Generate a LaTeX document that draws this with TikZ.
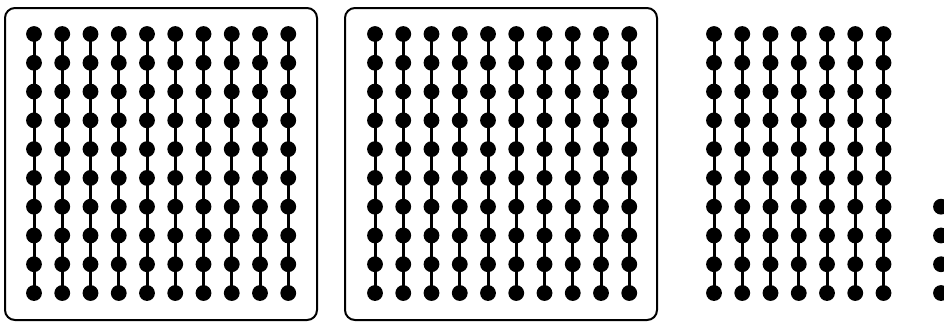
\documentclass[tikz,border=0pt]{standalone}
\begin{document}
\begin{tikzpicture}[x=1pt,y=-1pt,
  dotnode/.style={circle,fill=black,draw=none,inner sep=0pt,minimum size=15.8pt},
  chain/.style={line width=3pt,black},
  panel/.style={draw=black,line width=2pt,rounded corners=10pt}]
\useasboundingbox (0,0) rectangle (944,322);
\clip (0,0) rectangle (944,322);
\draw[panel] (5,8) rectangle (317,320);
\draw[panel] (345,8) rectangle (657,320);
% group 1 and 2: 10 columns
\foreach \g/\x/\n in {a/34/10,b/375/10,c/714/7}{
  \foreach \i in {1,...,\n}{
    \foreach \j in {1,...,10}{
      \node[dotnode] (\g-\i-\j) at ({\x+28.25*(\i-1)},{34+28.78*(\j-1)}) {};
    }
    \draw[chain] (\g-\i-1.center) -- (\g-\i-10.center);
  }
}
\foreach \j in {7,...,10}{
  \node[dotnode] (d-\j) at (941,{34+28.78*(\j-1)}) {};
}
\end{tikzpicture}
\end{document}
